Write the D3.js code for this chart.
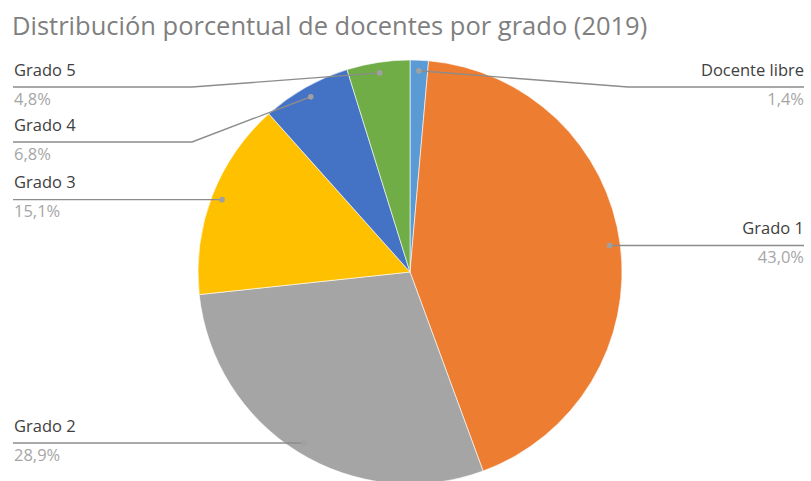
<!DOCTYPE html>
<html>
<head>
<meta charset="utf-8">
<script src="https://cdn.jsdelivr.net/npm/d3@7"></script>
<style>
  body { margin: 0; background: #fff; }
  svg { display: block; }
  text { font-family: "Open Sans", sans-serif; }
</style>
</head>
<body>
<svg id="chart"></svg>
<script>
// data
const categories = ["Docente libre", "Grado 1", "Grado 2", "Grado 3", "Grado 4", "Grado 5"];
const values = [1.4, 43.0, 28.9, 15.1, 6.8, 4.8];
const valueLabels = ["1,4%", "43,0%", "28,9%", "15,1%", "6,8%", "4,8%"];
const colors = ["#5B9BD5", "#ED7D31", "#A5A5A5", "#FFC000", "#4472C4", "#70AD47"];
const title = "Distribución porcentual de docentes por grado (2019)";

const width = 811, height = 481;
const cx = 410, cy = 272, radius = 212;
const leftEdge = 13, rightEdge = 804;
const leftElbow = 192, rightElbow = 628;
const minLineY = 87, minGap = 55;

const svg = d3.select("#chart").attr("width", width).attr("height", height);

svg.append("text")
  .attr("x", 12)
  .attr("y", 35)
  .attr("font-size", "25.5px")
  .attr("fill", "#7f7f7f")
  .text(title);

const data = categories.map((c, i) => ({ name: c, value: values[i], label: valueLabels[i], color: colors[i] }));

const pie = d3.pie().sort(null).value(d => d.value);
const arcs = pie(data);

const arc = d3.arc().innerRadius(0).outerRadius(radius);
const dotArc = d3.arc().innerRadius(radius * 0.95).outerRadius(radius * 0.95);

const g = svg.append("g").attr("transform", "translate(" + cx + "," + cy + ")");

g.selectAll("path.slice")
  .data(arcs)
  .enter()
  .append("path")
  .attr("class", "slice")
  .attr("d", arc)
  .attr("fill", d => d.data.color)
  .attr("stroke", "#fff")
  .attr("stroke-width", 0.6);

// label positions: line at dot height, pushed down to avoid overlap
arcs.forEach(d => {
  const c = dotArc.centroid(d);
  d.dot = [cx + c[0], cy + c[1]];
  d.side = c[0] >= 0 ? "right" : "left";
});

["left", "right"].forEach(side => {
  const list = arcs.filter(d => d.side === side).sort((a, b) => a.dot[1] - b.dot[1]);
  let prev = -Infinity;
  list.forEach(d => {
    let y = Math.max(d.dot[1], minLineY, prev + minGap);
    d.lineY = y;
    prev = y;
  });
});

const labels = svg.append("g").attr("class", "labels");

labels.selectAll("path.leader")
  .data(arcs)
  .enter()
  .append("path")
  .attr("class", "leader")
  .attr("fill", "none")
  .attr("stroke", "#8c8c8c")
  .attr("stroke-width", 1.4)
  .attr("d", d => {
    let elbowX, endX;
    if (d.side === "left") {
      elbowX = Math.min(d.dot[0], leftElbow);
      endX = leftEdge;
    } else {
      elbowX = Math.max(d.dot[0], rightElbow);
      endX = rightEdge;
    }
    return d3.line()([d.dot, [elbowX, d.lineY], [endX, d.lineY]]);
  });

labels.selectAll("circle.dot")
  .data(arcs)
  .enter()
  .append("circle")
  .attr("class", "dot")
  .attr("cx", d => d.dot[0])
  .attr("cy", d => d.dot[1])
  .attr("r", 2.8)
  .attr("fill", "#a0a0a0");

labels.selectAll("text.name")
  .data(arcs)
  .enter()
  .append("text")
  .attr("class", "name")
  .attr("x", d => d.side === "left" ? leftEdge + 1 : rightEdge)
  .attr("y", d => d.lineY - 11.5)
  .attr("text-anchor", d => d.side === "left" ? "start" : "end")
  .attr("font-size", "16.5px")
  .attr("fill", "#404040")
  .text(d => d.data.name);

labels.selectAll("text.pct")
  .data(arcs)
  .enter()
  .append("text")
  .attr("class", "pct")
  .attr("x", d => d.side === "left" ? leftEdge + 1 : rightEdge)
  .attr("y", d => d.lineY + 17.5)
  .attr("text-anchor", d => d.side === "left" ? "start" : "end")
  .attr("font-size", "16.5px")
  .attr("fill", "#a6a6a6")
  .text(d => d.data.label);
</script>
</body>
</html>
